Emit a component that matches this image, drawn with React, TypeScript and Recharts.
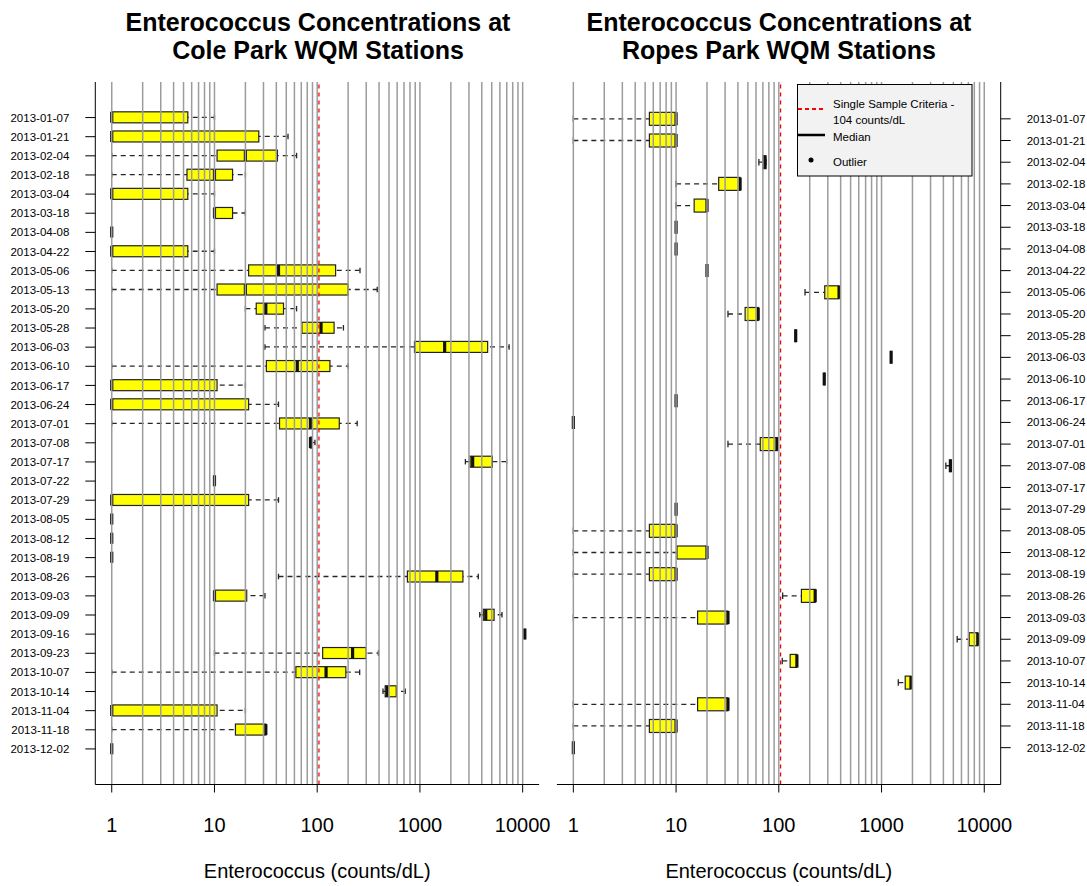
import React from "react";
import { ComposedChart, Bar, XAxis, YAxis, ReferenceLine } from "recharts";

const FONT = '"Liberation Sans", Arial, Helvetica, sans-serif';

// Cole Park stations
const coleDates = [
  "2013-01-07", "2013-01-21", "2013-02-04", "2013-02-18", "2013-03-04", "2013-03-18",
  "2013-04-08", "2013-04-22", "2013-05-06", "2013-05-13", "2013-05-20", "2013-05-28",
  "2013-06-03", "2013-06-10", "2013-06-17", "2013-06-24", "2013-07-01", "2013-07-08",
  "2013-07-17", "2013-07-22", "2013-07-29", "2013-08-05", "2013-08-12", "2013-08-19",
  "2013-08-26", "2013-09-03", "2013-09-09", "2013-09-16", "2013-09-23", "2013-10-07",
  "2013-10-14", "2013-11-04", "2013-11-18", "2013-12-02",
];
const coleMin = [1, 1, 1, 1, 1, 10, 1, 1, 1, 1, 20, 31, 31, 1, 1, 1, 1, 86, 2770, 10, 1, 1, 1, 1, 42, 10, 3820, 10500, 10, 1, 437, 1, 1, 1];
const coleQ1 = [1, 1, 10.6, 5.4, 1, 10, 1, 1, 21.5, 10.6, 25.5, 71, 885, 32, 1, 1, 43, 86, 3080, 10, 1, 1, 1, 1, 755, 10, 4140, 10500, 113, 62, 459, 1, 16, 1];
const coleMed = [1, 1, 20, 10, 1, 10, 1, 1, 42, 20, 31.6, 109, 1740, 64, 1, 1, 86, 86, 3260, 10, 1, 1, 1, 1, 1460, 10, 4370, 10500, 221, 122, 480, 1, 31.6, 1];
const coleQ3 = [5.5, 27, 41, 15, 5.5, 15, 1, 5.5, 151, 200, 47, 146, 4560, 133, 10.6, 21.5, 164, 88, 5060, 10, 21.5, 1, 1, 1, 2620, 20.6, 5270, 10500, 300, 190, 588, 10.6, 31.6, 1];
const coleMax = [10, 52, 63, 20, 10, 20, 1, 10, 261, 384, 63, 180, 7380, 200, 20, 42, 245, 95, 6980, 10, 42, 1, 1, 1, 3700, 31, 6290, 10500, 394, 259, 719, 20, 31.6, 1];

// Ropes Park stations
const ropesDates = [
  "2013-01-07", "2013-01-21", "2013-02-04", "2013-02-18", "2013-03-04", "2013-03-18",
  "2013-04-08", "2013-04-22", "2013-05-06", "2013-05-20", "2013-05-28", "2013-06-03",
  "2013-06-10", "2013-06-17", "2013-06-24", "2013-07-01", "2013-07-08", "2013-07-17",
  "2013-07-29", "2013-08-05", "2013-08-12", "2013-08-19", "2013-08-26", "2013-09-03",
  "2013-09-09", "2013-10-07", "2013-10-14", "2013-11-04", "2013-11-18", "2013-12-02",
];
const ropesMin = [1, 1, 64, 10, 10, 10, 10, 20, 180, 32, 146, 1240, 277, 10, 1, 32, 4230, null, 10, 1, 1, 1, 109, 1, 5450, 108, 1456, 1, 1, 1];
const ropesQ1 = [5.5, 5.5, 70, 26, 15, 10, 10, 20, 280, 47, 146, 1240, 277, 10, 1, 66, 4680, null, 10, 5.5, 10.2, 5.5, 166, 16.2, 7130, 129, 1700, 16.2, 5.5, 1];
const ropesMed = [10, 10, 73, 42, 20, 10, 10, 20, 386, 63, 146, 1240, 277, 10, 1, 96, 4680, null, 10, 10, 20, 10, 226, 32, 8650, 150, 1935, 32, 10, 1];
const ropesQ3 = [10, 10, 75, 42, 20, 10, 10, 20, 386, 63, 146, 1240, 277, 10, 1, 98, 4680, null, 10, 10, 20, 10, 226, 32, 8650, 150, 1935, 32, 10, 1];
const ropesMax = [10, 10, 75, 42, 20, 10, 10, 20, 386, 63, 146, 1240, 277, 10, 1, 98, 4680, null, 10, 10, 20, 10, 226, 32, 8650, 150, 1935, 32, 10, 1];

const xTicks = [1, 10, 100, 1000, 10000];
const gridValues = [
  1, 2, 3, 4, 5, 6, 7, 8, 9, 10, 20, 30, 40, 50, 60, 70, 80, 90, 100,
  200, 300, 400, 500, 600, 700, 800, 900, 1000, 2000, 3000, 4000, 5000, 6000, 7000, 8000, 9000, 10000,
];
const criteria = 104;
const xDomain = [0.6918, 14454];

type Row = { date: string; min: number | null; q1: number | null; med: number | null; q3: number | null; max: number | null };

const buildRows = (dates: string[], mins: any[], q1s: any[], meds: any[], q3s: any[], maxs: any[]): Row[] =>
  dates.map((date, i) => ({ date, min: mins[i], q1: q1s[i], med: meds[i], q3: q3s[i], max: maxs[i] }));

const coleRows = buildRows(coleDates, coleMin, coleQ1, coleMed, coleQ3, coleMax);
const ropesRows = buildRows(ropesDates, ropesMin, ropesQ1, ropesMed, ropesQ3, ropesMax);

const ok = (...v: number[]) => v.every((n) => Number.isFinite(n));

const WhiskerShape = (props: any) => {
  const { x, y, width, height } = props;
  if (!ok(x, y, width, height)) return <g />;
  const cy = y + height / 2;
  const cap = height / 4;
  return (
    <g>
      <line x1={x} x2={x + width} y1={cy} y2={cy} stroke="#262626" strokeWidth={1.3} strokeDasharray="5 4" />
      <line x1={x} x2={x} y1={cy - cap} y2={cy + cap} stroke="#262626" strokeWidth={1.3} />
      <line x1={x + width} x2={x + width} y1={cy - cap} y2={cy + cap} stroke="#262626" strokeWidth={1.3} />
    </g>
  );
};

const BoxShape = (props: any) => {
  const { x, y, width, height } = props;
  if (!ok(x, y, width, height)) return <g />;
  if (width < 0.5) {
    return <line x1={x} x2={x} y1={y} y2={y + height} stroke="#222" strokeWidth={1.2} />;
  }
  return <rect x={x} y={y} width={width} height={height} fill="#ffff00" stroke="#222" strokeWidth={1.2} />;
};

const MedianShape = (props: any) => {
  const { x, y, width, height } = props;
  if (!ok(x, y, width, height)) return <g />;
  const mx = x + width;
  return <line x1={mx} x2={mx} y1={y} y2={y + height} stroke="#111" strokeWidth={3.2} />;
};

const whiskerRange = (d: Row) => (d.min == null ? null : [d.min, d.max]);
const boxRange = (d: Row) => (d.q1 == null ? null : [d.q1, d.q3]);
const medianRange = (d: Row) => (d.med == null ? null : [d.med, d.med]);

const PLOT_TOP = 82;
const X_AXIS_H = 101.5;
const CHART_H = 886;
const PAD = { top: 26, bottom: 26 };

type PanelProps = { rows: Row[]; side: "left" | "right"; left: number; width: number; margin: any; labelWidth: number };

const Panel = ({ rows, side, left, width, margin, labelWidth }: PanelProps) => {
  const isLeft = side === "left";
  return (
    <div style={{ position: "absolute", left, top: 0, width, height: CHART_H }}>
      <ComposedChart layout="vertical" width={width} height={CHART_H} data={rows} margin={margin} barCategoryGap="20%">
        <XAxis
          xAxisId="b"
          type="number"
          scale="log"
          domain={xDomain}
          allowDataOverflow
          ticks={xTicks}
          interval={0}
          orientation="bottom"
          height={X_AXIS_H}
          tickSize={8}
          tickMargin={25}
          stroke="#000"
          tick={{ fontSize: 20, fill: "#000", fontFamily: FONT }}
          tickFormatter={(v: number) => String(v)}
          label={{ value: "Enterococcus (counts/dL)", position: "insideBottom", offset: 8, fontSize: 20, fill: "#000", fontFamily: FONT }}
        />
        <XAxis
          xAxisId="t"
          type="number"
          scale="log"
          domain={xDomain}
          allowDataOverflow
          orientation="top"
          height={0}
          tick={false}
          tickLine={false}
          stroke="#000"
        />
        <YAxis
          yAxisId="lab"
          type="category"
          dataKey="date"
          orientation={isLeft ? "left" : "right"}
          width={labelWidth}
          padding={PAD}
          interval={0}
          tickSize={10}
          tickMargin={16}
          stroke="#000"
          tick={{ fontSize: 11.5, fill: "#000", fontFamily: FONT }}
        />
        <YAxis
          yAxisId="edge"
          type="category"
          dataKey="date"
          orientation={isLeft ? "right" : "left"}
          width={0}
          padding={PAD}
          tick={false}
          tickLine={false}
          stroke="#000"
        />
        <YAxis yAxisId="mid" type="category" dataKey="date" hide padding={PAD} />

        <Bar xAxisId="b" yAxisId="lab" dataKey={whiskerRange} shape={WhiskerShape} isAnimationActive={false} />
        <Bar xAxisId="b" yAxisId="edge" dataKey={boxRange} shape={BoxShape} isAnimationActive={false} />

        {gridValues.map((v) => (
          <ReferenceLine key={v} xAxisId="b" yAxisId="lab" x={v} stroke="#9c9c9c" strokeWidth={1.5} />
        ))}
        <ReferenceLine xAxisId="b" yAxisId="lab" x={criteria} stroke="#ff0000" strokeWidth={1.3} strokeDasharray="4 4" />

        <Bar xAxisId="t" yAxisId="mid" dataKey={medianRange} shape={MedianShape} isAnimationActive={false} />
      </ComposedChart>
    </div>
  );
};

const titleStyle = (center: number): React.CSSProperties => ({
  position: "absolute",
  left: center - 260,
  width: 520,
  top: 9,
  textAlign: "center",
  fontFamily: FONT,
  fontWeight: "bold",
  fontSize: 25,
  lineHeight: "27.5px",
  color: "#000",
});

const Legend = () => (
  <svg style={{ position: "absolute", left: 797, top: 84 }} width={176} height={93}>
    <rect x={0.5} y={0.5} width={174.5} height={91.5} fill="#f2f2f2" stroke="#000" strokeWidth={1} />
    <line x1={1} x2={28} y1={25} y2={25} stroke="#ff0000" strokeWidth={2} strokeDasharray="4 3" />
    <text x={36} y={21} fontSize={11.5} fontFamily={FONT} dominantBaseline="middle" fill="#000">Single Sample Criteria -</text>
    <text x={36} y={37} fontSize={11.5} fontFamily={FONT} dominantBaseline="middle" fill="#000">104 counts/dL</text>
    <line x1={1} x2={28} y1={51} y2={51} stroke="#000" strokeWidth={2.5} />
    <text x={36} y={54} fontSize={11.5} fontFamily={FONT} dominantBaseline="middle" fill="#000">Median</text>
    <circle cx={14} cy={76} r={2.5} fill="#000" />
    <text x={36} y={79} fontSize={11.5} fontFamily={FONT} dominantBaseline="middle" fill="#000">Outlier</text>
  </svg>
);

export default function App() {
  return (
    <div style={{ position: "absolute", left: 0, top: 0, width: 1087, height: 886, background: "#fff" }}>
      <div style={titleStyle(318)}>
        Enterococcus Concentrations at
        <br />
        Cole Park WQM Stations
      </div>
      <div style={titleStyle(779)}>
        Enterococcus Concentrations at
        <br />
        Ropes Park WQM Stations
      </div>
      <Panel rows={coleRows} side="left" left={0} width={560} labelWidth={90} margin={{ top: PLOT_TOP, left: 5.3, right: 20.9, bottom: 0 }} />
      <Panel rows={ropesRows} side="right" left={548} width={539} labelWidth={80} margin={{ top: PLOT_TOP, left: 8.9, right: 6.3, bottom: 0 }} />
      <Legend />
    </div>
  );
}
